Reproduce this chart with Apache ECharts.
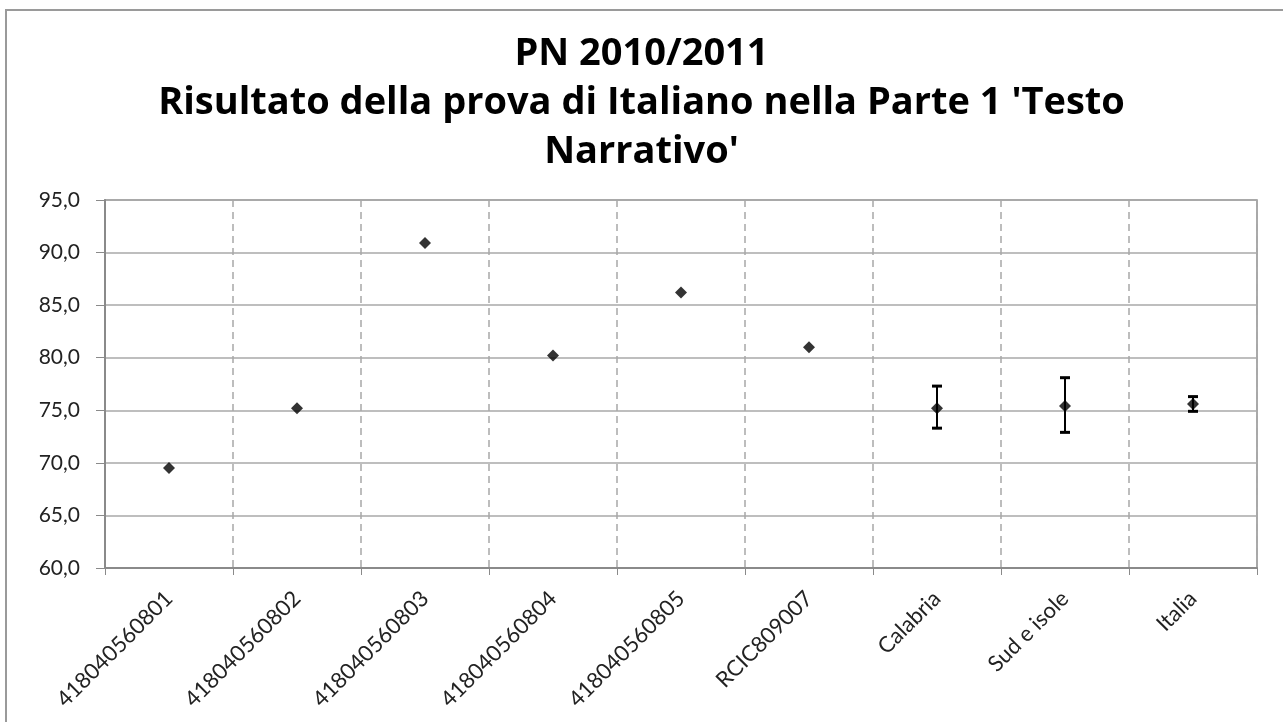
<!DOCTYPE html>
<html>
<head>
<meta charset="utf-8">
<title>PN 2010/2011</title>
<script src="https://cdn.jsdelivr.net/npm/echarts@6/dist/echarts.min.js"></script>
<style>
  html, body { margin: 0; padding: 0; background: #fff; }
  #grafico { width: 1283px; height: 722px; }
</style>
</head>
<body>
<div id="grafico"></div>
<script>
// dati
var categorie = ['418040560801', '418040560802', '418040560803', '418040560804', '418040560805', 'RCIC809007', 'Calabria', 'Sud e isole', 'Italia']
var punteggi = [69.5, 75.2, 90.9, 80.2, 86.2, 81.0, 75.2, 75.4, 75.6]
var erroreMin = [null, null, null, null, null, null, 73.3, 72.9, 74.9]
var erroreMax = [null, null, null, null, null, null, 77.3, 78.1, 76.3]
var yTicks = [60, 65, 70, 75, 80, 85, 90, 95]

var barreErrore = []
categorie.forEach(function (c, i) {
  if (erroreMin[i] !== null) barreErrore.push([i, erroreMin[i], erroreMax[i]])
})

var font = 'Lato, "Open Sans", sans-serif'
var myChart = echarts.init(document.getElementById('grafico'))

var option = {
  backgroundColor: '#fff',
  animation: false,
  title: {
    text: "PN 2010/2011\nRisultato della prova di Italiano nella Parte 1 'Testo\nNarrativo'",
    left: 'center',
    top: 25,
    textStyle: {
      fontFamily: '"Open Sans", sans-serif',
      fontWeight: 'bold',
      fontSize: 38,
      lineHeight: 49,
      color: '#000'
    }
  },
  graphic: [{
    type: 'rect',
    z: -1,
    shape: { x: 6, y: 10, width: 1290, height: 800 },
    style: { fill: 'none', stroke: '#9a9a9a', lineWidth: 2 }
  }],
  grid: {
    left: 105,
    right: 26,
    top: 200,
    bottom: 154,
    show: true,
    borderColor: '#8f8f8f',
    borderWidth: 1.5
  },
  xAxis: {
    type: 'category',
    data: categorie,
    boundaryGap: true,
    axisLine: { lineStyle: { color: '#8a8a8a', width: 2 } },
    axisTick: { show: true, length: 7, lineStyle: { color: '#8a8a8a', width: 1 } },
    axisLabel: {
      rotate: 45,
      interval: 0,
      margin: 27,
      fontFamily: font,
      fontSize: 22,
      color: '#222'
    },
    splitLine: {
      show: true,
      lineStyle: { color: '#a8a8a8', type: [7, 5], width: 1.5 }
    }
  },
  yAxis: {
    type: 'value',
    min: yTicks[0],
    max: yTicks[yTicks.length - 1],
    interval: 5,
    axisLine: { show: true, lineStyle: { color: '#8a8a8a', width: 2 } },
    axisTick: { show: true, length: 9, lineStyle: { color: '#8a8a8a', width: 1 } },
    axisLabel: {
      margin: 25,
      fontFamily: font,
      fontSize: 21,
      color: '#222',
      formatter: function (v) { return v.toFixed(1).replace('.', ',') }
    },
    splitLine: { lineStyle: { color: '#a8a8a8', width: 1.5 } }
  },
  series: [
    {
      type: 'custom',
      name: 'errore',
      data: barreErrore,
      z: 3,
      renderItem: function (params, api) {
        var x = api.value(0)
        var basso = api.coord([x, api.value(1)])
        var alto = api.coord([x, api.value(2)])
        var mezzo = 5
        var stile = { stroke: '#000', lineWidth: 2 }
        var stileCap = { stroke: '#000', lineWidth: 3 }
        return {
          type: 'group',
          children: [
            { type: 'line', shape: { x1: basso[0], y1: basso[1], x2: alto[0], y2: alto[1] }, style: stile },
            { type: 'line', shape: { x1: alto[0] - mezzo, y1: alto[1], x2: alto[0] + mezzo, y2: alto[1] }, style: stileCap },
            { type: 'line', shape: { x1: basso[0] - mezzo, y1: basso[1], x2: basso[0] + mezzo, y2: basso[1] }, style: stileCap }
          ]
        }
      }
    },
    {
      type: 'scatter',
      name: 'punteggio',
      data: punteggi,
      symbol: 'diamond',
      symbolSize: [12, 12],
      z: 4,
      itemStyle: { color: '#000' }
    }
  ]
}

myChart.setOption(option)
</script>
</body>
</html>
